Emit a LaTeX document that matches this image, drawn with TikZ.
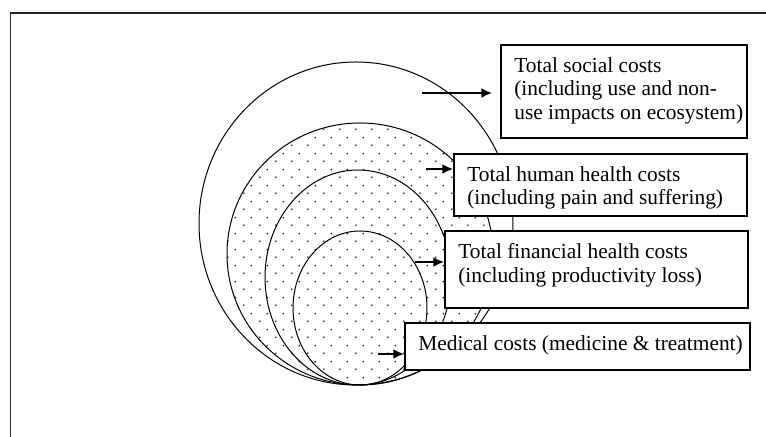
\documentclass[tikz,border=0pt]{standalone}
\usepackage{fontspec}
\setmainfont{Liberation Serif}
\usetikzlibrary{arrows.meta,patterns}

\pgfdeclarepatternformonly{sparsedots}{\pgfpointorigin}{\pgfpoint{8pt}{8pt}}{\pgfpoint{8pt}{8pt}}{%
\pgfpathcircle{\pgfpoint{2pt}{2pt}}{0.5pt}%
\pgfpathcircle{\pgfpoint{6pt}{6pt}}{0.5pt}%
\pgfusepath{fill}}

\begin{document}
\begin{tikzpicture}[x=0.5pt,y=0.5pt,costbox/.style={draw=black,fill=white,line width=0.7pt,inner sep=0pt},costtext/.style={anchor=north west,align=left,inner xsep=6.8pt,inner ysep=6.5pt,font=\fontsize{10.7}{11.7}\selectfont},ring/.style={draw=black,line width=0.5pt},ringD/.style={ring,pattern=sparsedots,pattern color=black!85},push/.style={-{Latex[length=5.5pt,width=5pt]},line width=1.2pt}]
\def\bx{358};
\def\by{52};

\useasboundingbox (0,0) rectangle (766,437);
\draw[line width=0.8pt,black!85] (10.5,0) -- (10.5,424) -- (766,424);

\draw[ring] (\bx-2,\by+161.5) ellipse [x radius=157,y radius=161.5];
\draw[ringD] (\bx+2,\by+131) ellipse [x radius=133,y radius=131];
\draw[ring] (\bx,\by+107.5) ellipse [x radius=93,y radius=107.5];
\draw[ring] (\bx+2,\by+77) ellipse [x radius=67,y radius=77];

\node[costbox,minimum width=123pt,minimum height=46.5pt] (social) at (624,345.5) {};
\node[costtext] (socialT) at (social.north west) {Total social costs\\(including use and non-\\use impacts on ecosystem)};
\node[costbox,minimum width=146.5pt,minimum height=31pt] (human) at (600.5,252) {};
\node[costtext] (humanT) at (human.north west) {Total human health costs\\(including pain and suffering)};
\node[costbox,minimum width=151.5pt,minimum height=38.5pt] (financial) at (596.5,167.5) {};
\node[costtext] (financialT) at (financial.north west) {Total financial health costs\\(including productivity loss)};
\node[costbox,minimum width=172.5pt,minimum height=23.5pt] (medical) at (577.5,90.5) {};
\node[costtext] (medicalT) at (medical.north west) {Medical costs (medicine \& treatment)};

\coordinate (a1) at (422,344);
\coordinate (a2) at (426,268);
\coordinate (a3) at (415,175);
\coordinate (a4) at (378,83);
\draw[push,shorten >=4pt] (a1) -- (a1 -| social.west);
\draw[push] (a2) -- (a2 -| human.west);
\draw[push] (a3) -- (a3 -| financial.west);
\draw[push] (a4) -- (a4 -| medical.west);
\end{tikzpicture}
\end{document}
